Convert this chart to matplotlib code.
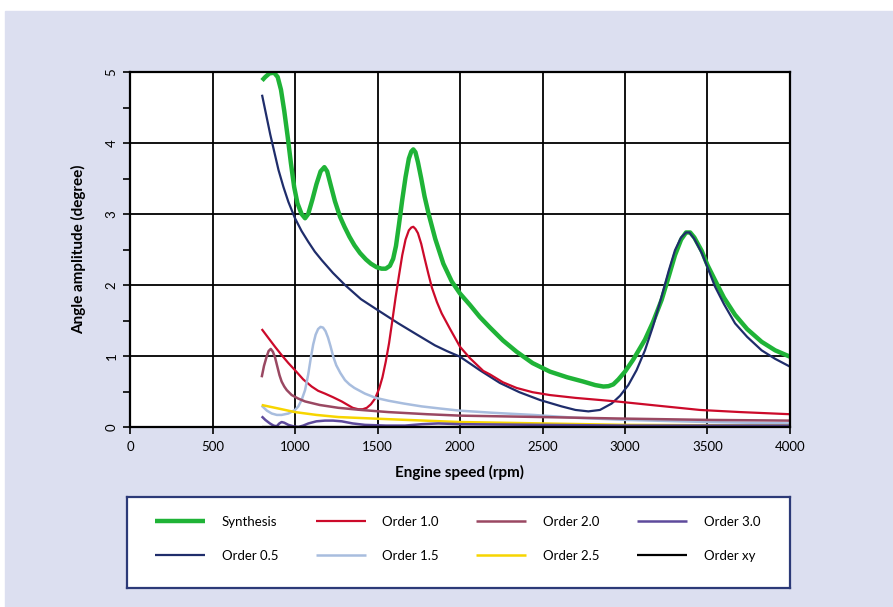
#!/usr/bin/env python3
"""
Angle amplitude vs engine speed, per order.
"""
import matplotlib
matplotlib.use('Agg')
import matplotlib.pyplot as plt
from matplotlib.patches import Rectangle

plt.rcParams['font.family'] = ['Lato', 'DejaVu Sans']

# ---- data ----
synth_rpm = [800, 820, 845, 873, 895, 915, 935, 955, 975, 995, 1015, 1040, 1061, 1080,
             1105, 1130, 1155, 1178, 1195, 1215, 1242, 1273, 1300, 1330, 1360, 1394,
             1430, 1460, 1495, 1525, 1550, 1575, 1595, 1612, 1630, 1650, 1670, 1690,
             1705, 1717, 1730, 1745, 1765, 1785, 1810, 1850, 1899, 1950, 2000, 2060,
             2120, 2182, 2260, 2343, 2440, 2545, 2650, 2747, 2820, 2869, 2900, 2929,
             2960, 3000, 3050, 3121, 3170, 3222, 3265, 3303, 3340, 3370, 3395, 3420,
             3465, 3500, 3545, 3600, 3667, 3740, 3828, 3910, 4000]
synth_amp = [4.88, 4.93, 4.98, 4.99, 4.93, 4.75, 4.45, 4.10, 3.72, 3.38, 3.15, 3.00, 2.94,
             3.00, 3.20, 3.42, 3.60, 3.66, 3.60, 3.42, 3.18, 2.96, 2.82, 2.68, 2.56, 2.45,
             2.36, 2.30, 2.25, 2.23, 2.23, 2.27, 2.37, 2.55, 2.85, 3.20, 3.52, 3.78,
             3.88, 3.91, 3.87, 3.73, 3.50, 3.25, 3.00, 2.65, 2.30, 2.05, 1.88, 1.72,
             1.55, 1.40, 1.22, 1.06, 0.90, 0.78, 0.70, 0.64, 0.59, 0.57, 0.575, 0.60,
             0.67, 0.78, 0.95, 1.23, 1.48, 1.79, 2.12, 2.42, 2.64, 2.74, 2.74, 2.67,
             2.48, 2.28, 2.07, 1.82, 1.58, 1.38, 1.20, 1.08, 0.99]

o05_rpm = [800, 825, 850, 875, 900, 930, 960, 1000, 1040, 1080, 1120, 1162, 1230, 1303,
           1400, 1499, 1626, 1740, 1848, 1920, 2000, 2120, 2242, 2360, 2485, 2616, 2700,
           2778, 2848, 2919, 2970, 3020, 3070, 3121, 3170, 3222, 3265, 3303, 3340, 3370,
           3390, 3420, 3465, 3500, 3545, 3600, 3667, 3740, 3828, 3910, 4000]
o05_amp = [4.68, 4.40, 4.12, 3.87, 3.62, 3.38, 3.17, 2.94, 2.76, 2.61, 2.47, 2.35, 2.17, 2.00,
           1.80, 1.65, 1.46, 1.30, 1.15, 1.07, 0.99, 0.80, 0.62, 0.49, 0.38, 0.29, 0.24,
           0.22, 0.24, 0.33, 0.44, 0.59, 0.80, 1.08, 1.42, 1.84, 2.20, 2.49, 2.67, 2.74,
           2.74, 2.65, 2.45, 2.25, 1.98, 1.73, 1.46, 1.27, 1.08, 0.96, 0.85]

o10_rpm = [798, 840, 879, 920, 960, 1000, 1050, 1101, 1140, 1182, 1230, 1283, 1320, 1350,
           1384, 1410, 1435, 1460, 1485, 1510, 1530, 1550, 1570, 1590, 1610, 1630, 1650,
           1670, 1690, 1705, 1717, 1730, 1745, 1765, 1785, 1808, 1830, 1860, 1889, 1940,
           2000, 2060, 2141, 2182, 2260, 2343, 2440, 2545, 2700, 2949, 3200, 3454, 3700,
           4000]
o10_amp = [1.38, 1.25, 1.13, 1.01, 0.90, 0.80, 0.67, 0.57, 0.51, 0.47, 0.42, 0.36, 0.31, 0.27,
           0.25, 0.25, 0.27, 0.32, 0.40, 0.54, 0.70, 0.92, 1.18, 1.50, 1.83, 2.13, 2.42,
           2.64, 2.77, 2.81, 2.82, 2.79, 2.73, 2.58, 2.38, 2.16, 1.96, 1.76, 1.60, 1.38,
           1.13, 0.97, 0.79, 0.74, 0.63, 0.55, 0.49, 0.45, 0.41, 0.36, 0.30, 0.24, 0.21,
           0.18]

o15_rpm = [798, 830, 859, 890, 919, 960, 1000, 1020, 1040, 1061, 1080, 1095, 1110, 1125,
           1140, 1155, 1170, 1185, 1200, 1215, 1232, 1250, 1275, 1303, 1330, 1360, 1424,
           1490, 1566, 1660, 1768, 1880, 2000, 2200, 2444, 2700, 3000, 3500, 4000]
o15_amp = [0.30, 0.23, 0.19, 0.17, 0.17, 0.19, 0.24, 0.29, 0.38, 0.52, 0.74, 0.96, 1.16, 1.30,
           1.38, 1.41, 1.40, 1.35, 1.26, 1.14, 0.99, 0.87, 0.76, 0.66, 0.60, 0.55, 0.47,
           0.41, 0.37, 0.33, 0.29, 0.26, 0.23, 0.20, 0.17, 0.13, 0.10, 0.07, 0.05]

o20_rpm = [798, 812, 828, 840, 853, 866, 879, 893, 906, 919, 935, 950, 980, 1020, 1061,
           1150, 1263, 1400, 1566, 1800, 2000, 2500, 2949, 3500, 4000]
o20_amp = [0.70, 0.86, 0.99, 1.07, 1.10, 1.06, 0.98, 0.85, 0.73, 0.64, 0.57, 0.52, 0.45, 0.40,
           0.36, 0.31, 0.27, 0.24, 0.21, 0.18, 0.16, 0.14, 0.12, 0.10, 0.09]

o25_rpm = [798, 900, 1000, 1130, 1263, 1566, 2000, 2500, 3000, 4000]
o25_amp = [0.31, 0.26, 0.21, 0.17, 0.14, 0.11, 0.07, 0.05, 0.03, 0.02]

o30_rpm = [798, 820, 848, 870, 889, 905, 919, 935, 960, 990, 1020, 1050, 1081, 1130, 1182,
           1230, 1283, 1350, 1424, 1550, 1667, 1770, 1869, 2000, 2500, 3000, 4000]
o30_amp = [0.15, 0.10, 0.05, 0.02, 0.01, 0.05, 0.07, 0.06, 0.03, 0.01, 0.00, 0.02, 0.05, 0.08,
           0.09, 0.09, 0.08, 0.05, 0.03, 0.02, 0.02, 0.04, 0.05, 0.04, 0.03, 0.02, 0.02]

oxy_rpm = [800, 4000]
oxy_amp = [0.005, 0.005]

series = [
    ('Synthesis', synth_rpm, synth_amp, '#1FB337', 3.2),
    ('Order 0.5', o05_rpm, o05_amp, '#1F2D6B', 1.6),
    ('Order 1.0', o10_rpm, o10_amp, '#CC0A2A', 1.6),
    ('Order 1.5', o15_rpm, o15_amp, '#A8BDDE', 1.8),
    ('Order 2.0', o20_rpm, o20_amp, '#9A4862', 1.8),
    ('Order 2.5', o25_rpm, o25_amp, '#F7D500', 1.8),
    ('Order 3.0', o30_rpm, o30_amp, '#5E4A9C', 1.8),
    ('Order xy', oxy_rpm, oxy_amp, '#000000', 1.6),
]

W, H = 893, 607
fig = plt.figure(figsize=(W / 100, H / 100), dpi=100)
fig.patches.append(Rectangle((5 / W, 0), 1, 1 - 10.5 / H, transform=fig.transFigure,
                             color='#DCDFF0', zorder=-10))

ax = fig.add_axes([130 / W, 180 / H, 660 / W, 355 / H])
ax.set_xlim(0, 4000)
ax.set_ylim(0, 5)
ax.set_xticks(range(0, 4001, 500))
ax.set_yticks(range(0, 6))
ax.set_yticks([0.5, 1.5, 2.5, 3.5, 4.5], minor=True)
ax.grid(True, which='major', color='black', lw=1.3)
ax.set_axisbelow(True)
for sp in ax.spines.values():
    sp.set_linewidth(1.6)
ax.tick_params(which='both', direction='out', length=5, width=1.2, labelsize=9.5)
ax.tick_params(axis='x', pad=5)
ax.tick_params(axis='y', pad=4)
for lab in ax.get_yticklabels():
    lab.set_rotation(90)
    lab.set_va('center')

handles = []
for name, x, y, color, lw in series:
    h, = ax.plot(x, y, color=color, lw=lw, label=name, solid_capstyle='butt',
                 solid_joinstyle='round')
    handles.append(h)

ax.set_xlabel('Engine speed (rpm)', fontsize=11, fontweight='bold', labelpad=9)
ax.set_ylabel('Angle amplitude (degree)', fontsize=11, fontweight='bold', labelpad=14)

# legend box
lax = fig.add_axes([127 / W, 19 / H, 663 / W, 91 / H])
lax.set_xticks([])
lax.set_yticks([])
lax.set_facecolor('white')
for sp in lax.spines.values():
    sp.set_color('#2C3A78')
    sp.set_linewidth(1.6)
lax.legend(handles, [s[0] for s in series], ncol=4, loc='center',
           bbox_to_anchor=(28 / 663, 0.04, 605 / 663, 1), mode='expand',
           frameon=False, fontsize=9.5, handlelength=3.8, handletextpad=1.25,
           labelspacing=1.7, borderaxespad=0, borderpad=0)

plt.savefig('out.png', dpi=100)
